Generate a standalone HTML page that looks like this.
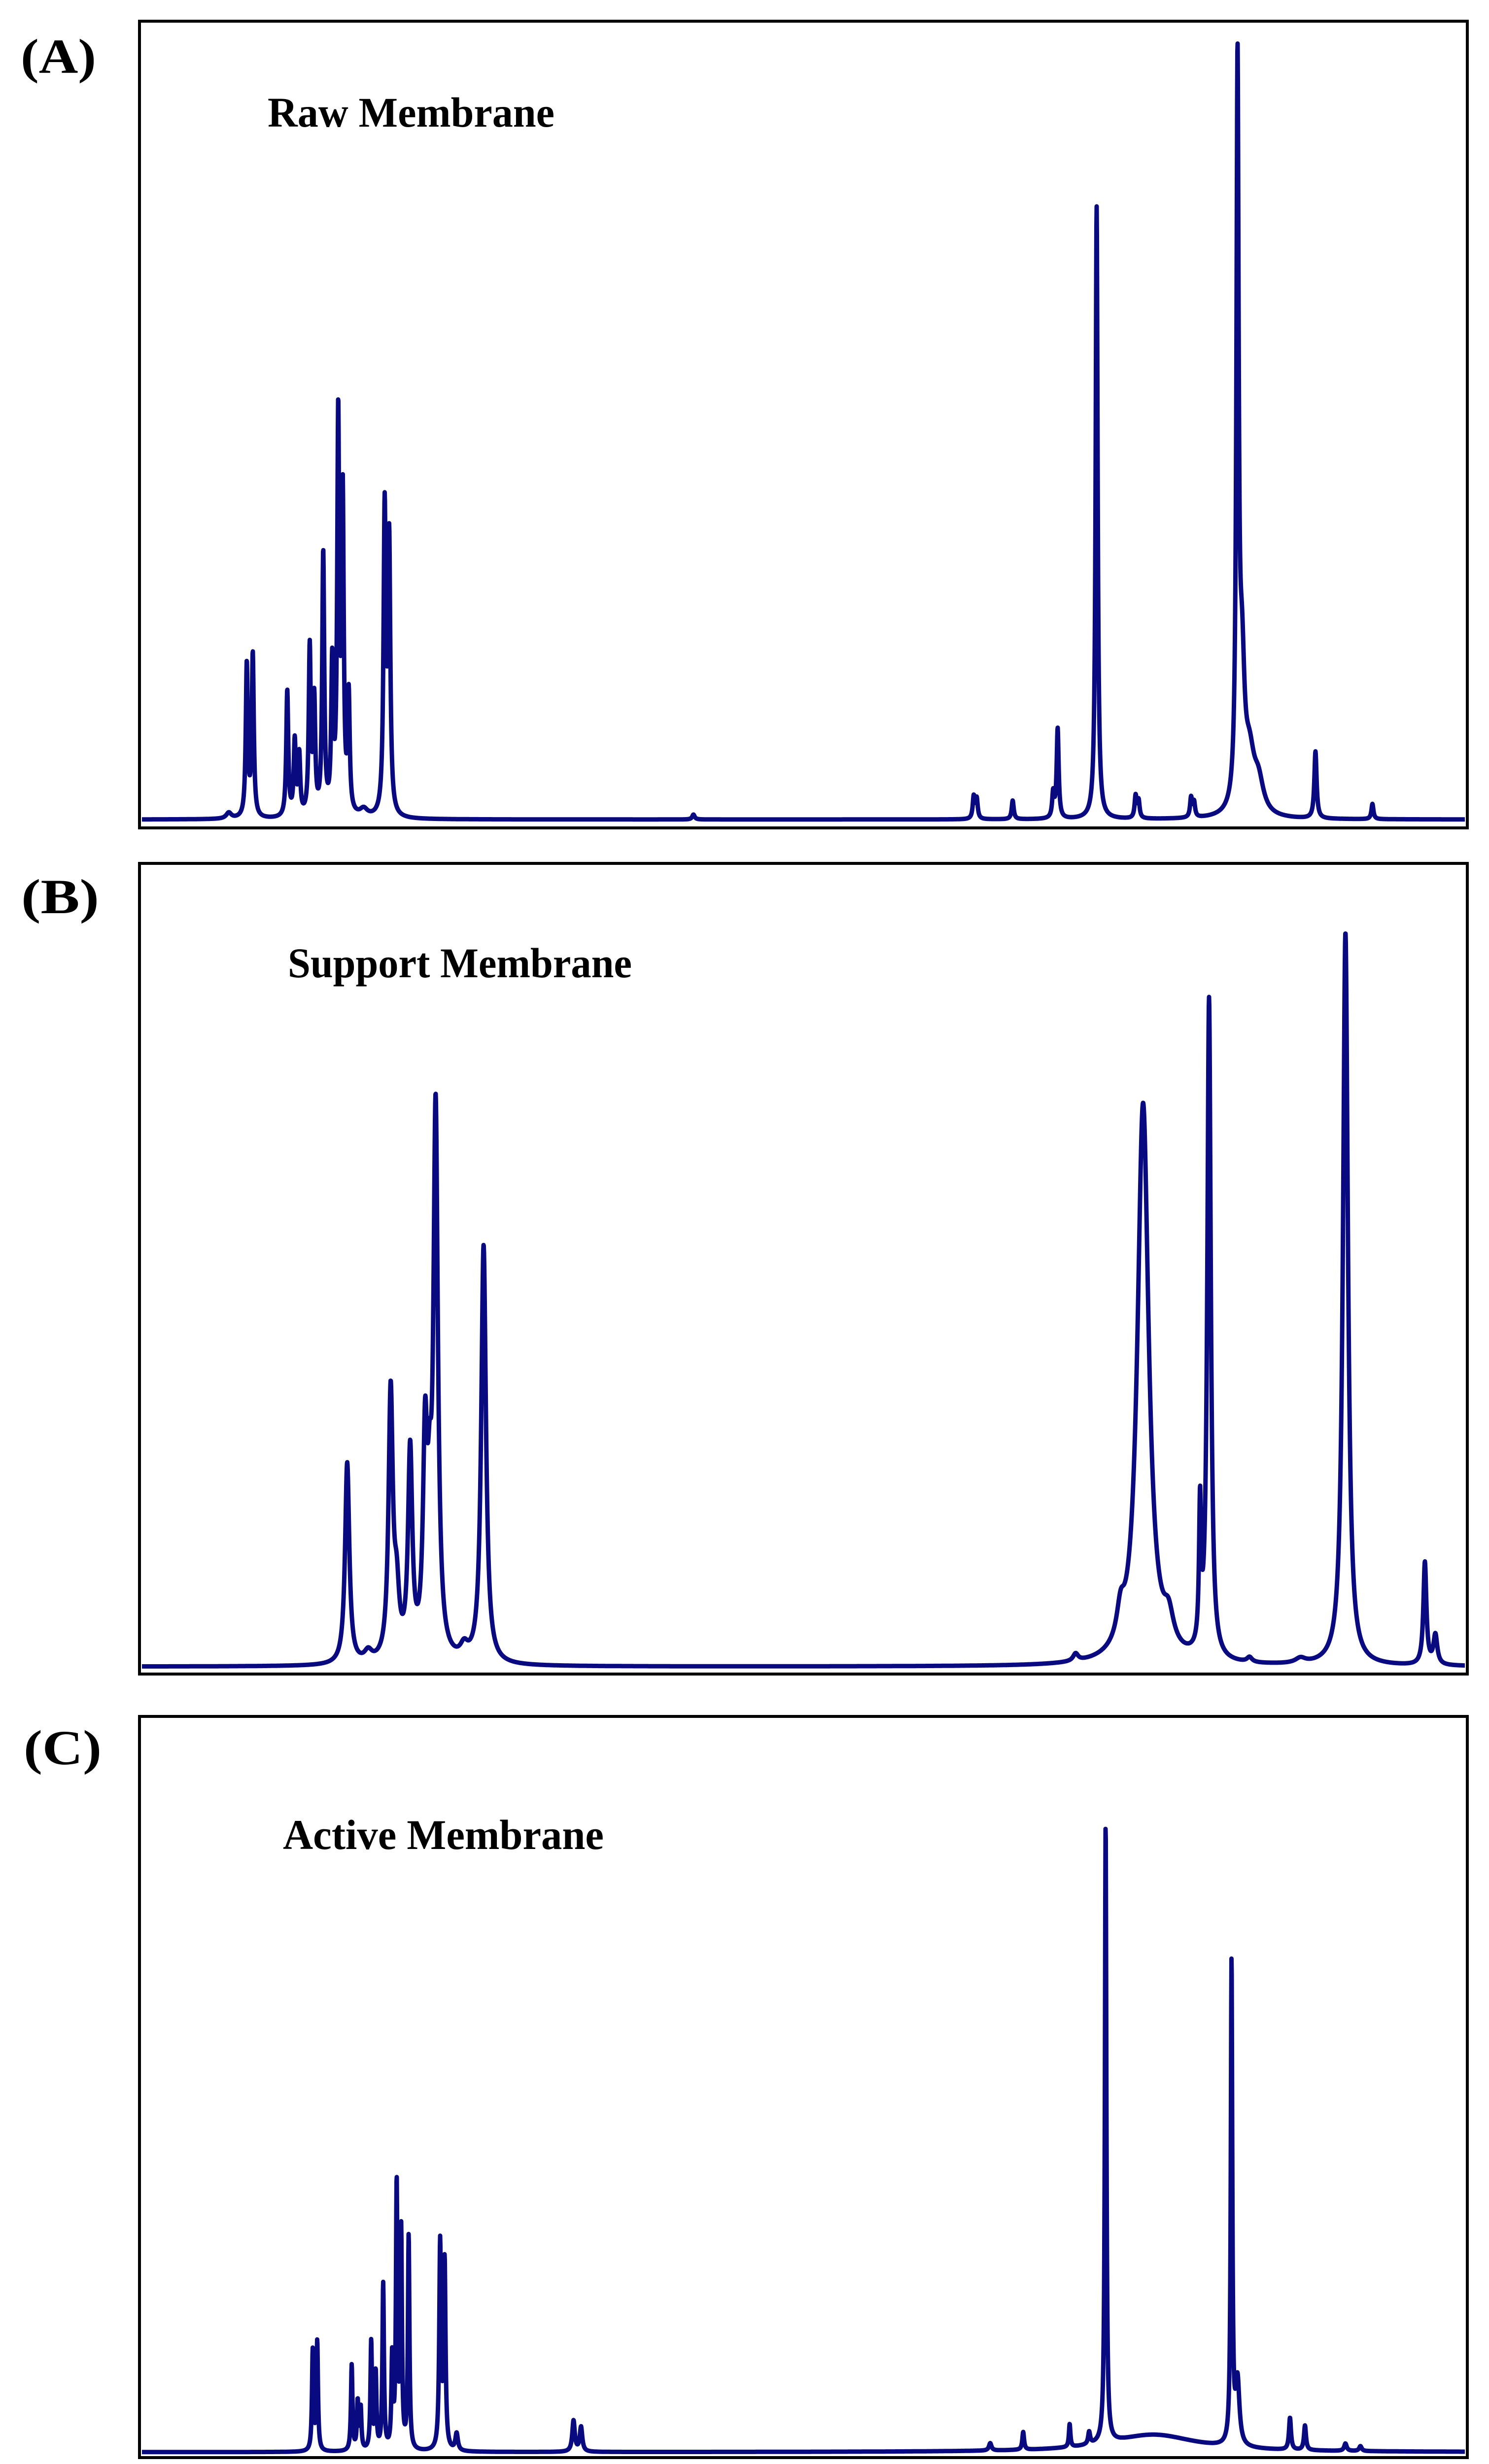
<!DOCTYPE html>
<html><head><meta charset="utf-8"><style>
html,body{margin:0;padding:0;background:#fff;width:3021px;height:5137px;overflow:hidden;}
svg{display:block;position:absolute;left:0;top:0;}
</style></head><body>
<svg id="chart" width="3021" height="5137" viewBox="0 0 3021 5137" xmlns="http://www.w3.org/2000/svg">
<rect width="3021" height="5137" fill="#fff"/>
<g id="frames"></g>
<g id="spectra"></g>
<g id="axis"></g>
<text x="42" y="148" font-family="Liberation Serif, serif" font-weight="bold" font-size="100" textLength="153" lengthAdjust="spacingAndGlyphs">(A)</text>
<text x="43" y="1853" font-family="Liberation Serif, serif" font-weight="bold" font-size="100" textLength="158" lengthAdjust="spacingAndGlyphs">(B)</text>
<text x="48" y="3580" font-family="Liberation Serif, serif" font-weight="bold" font-size="100" textLength="158" lengthAdjust="spacingAndGlyphs">(C)</text>
<text x="543" y="257" font-family="Liberation Serif, serif" font-weight="bold" font-size="86" textLength="582" lengthAdjust="spacingAndGlyphs">Raw Membrane</text>
<text x="584" y="1983" font-family="Liberation Serif, serif" font-weight="bold" font-size="86" textLength="698" lengthAdjust="spacingAndGlyphs">Support Membrane</text>
<text x="574" y="3752" font-family="Liberation Serif, serif" font-weight="bold" font-size="86" textLength="651" lengthAdjust="spacingAndGlyphs">Active Membrane</text>
</svg>
<script>
// Panel A (Raw Membrane)
const rawPpm = [8.33,8.29,8.06,8.01,7.98,7.91,7.88,7.82,7.76,7.72,7.69,7.65,7.41,7.38,8.45,7.55,3.48,3.46,3.22,2.95,2.92,2.66,2.40,2.38,2.03,2.01,1.72,1.69,1.64,1.58,1.20,0.82,5.35];
const rawHeight = [310,329,256,150,121,338,228,529,296,796,635,234,616,548,12,15,45,40,38,50,182,1244,45,35,40,30,1473,260,110,60,136,31,10];
const rawWidth = [0.008,0.008,0.008,0.008,0.008,0.008,0.008,0.008,0.008,0.008,0.008,0.008,0.009,0.009,0.02,0.03,0.008,0.008,0.008,0.008,0.008,0.008,0.008,0.008,0.008,0.008,0.009,0.02,0.04,0.04,0.009,0.008,0.01];
// Panel B (Support Membrane)
const supPpm = [7.66,7.37,7.33,7.24,7.14,7.11,7.07,6.75,6.88,7.52,2.80,2.50,2.35,2.18,1.97,1.91,1.64,1.30,1.00,0.47,0.40];
const supHeight = [409,540,120,417,420,200,1105,849,25,20,15,60,1137,60,280,1340,10,10,1488,208,60];
const supWidth = [0.017,0.017,0.02,0.017,0.017,0.015,0.018,0.019,0.03,0.03,0.02,0.03,0.045,0.04,0.008,0.014,0.02,0.04,0.02,0.012,0.015];
// Panel C (Active Membrane)
const actPpm = [7.89,7.86,7.63,7.59,7.57,7.50,7.47,7.42,7.36,7.33,7.30,7.25,7.04,7.01,6.93,6.15,6.10,3.37,3.15,2.84,2.71,2.60,2.28,1.76,1.72,1.37,1.27,1.00,0.90];
const actHeight = [203,221,174,97,84,219,155,336,184,535,439,433,418,379,35,63,50,15,36,47,25,1259,35,980,130,65,50,15,10];
const actWidth = [0.006,0.006,0.006,0.006,0.006,0.006,0.006,0.006,0.006,0.006,0.006,0.006,0.007,0.007,0.01,0.01,0.01,0.01,0.007,0.006,0.008,0.006,0.35,0.006,0.015,0.008,0.008,0.01,0.01];
// Axis
const tickLabels = ["8.5","8.0","7.5","7.0","6.5","6.0","5.5","5.0","4.5","4.0","3.5","3.0","2.5","2.0","1.5","1.0"];

const NS = "http://www.w3.org/2000/svg";
const X0 = 449, PPX = 304.1, LEFT = 283, RIGHT = 2977;
function xScale(p){ return X0 + (8.5 - p) * PPX; }
function ppmAt(x){ return 8.5 - (x - X0) / PPX; }

const panels = [
  {name:"raw", top:43, bottom:1680, base:1663, ppm:rawPpm, h:rawHeight, w:rawWidth},
  {name:"support", top:1752, bottom:3397, base:3382, ppm:supPpm, h:supHeight, w:supWidth},
  {name:"active", top:3483, bottom:4987, base:4976, ppm:actPpm, h:actHeight, w:actWidth}
];
const frames = document.getElementById('frames');
const spectra = document.getElementById('spectra');
panels.forEach(pn => {
  const r = document.createElementNS(NS,'rect');
  r.setAttribute('x', LEFT); r.setAttribute('y', pn.top);
  r.setAttribute('width', RIGHT-LEFT); r.setAttribute('height', pn.bottom-pn.top);
  r.setAttribute('fill','none'); r.setAttribute('stroke','#000'); r.setAttribute('stroke-width','6');
  
  
  frames.appendChild(r);
  let d = "";
  for (let x = LEFT + 5; x <= RIGHT - 5; x += 0.5) {
    const p = ppmAt(x);
    let s = 0;
    for (let i = 0; i < pn.ppm.length; i++) {
      const g = (p - pn.ppm[i]) / pn.w[i];
      s += pn.h[i] / (1 + g*g);
    }
    const y = pn.base - s;
    d += (d ? "L" : "M") + x.toFixed(1) + " " + y.toFixed(1);
  }
  const path = document.createElementNS(NS,'path');
  path.setAttribute('d', d);
  path.setAttribute('fill','none'); path.setAttribute('stroke','#0a0a80');
  path.setAttribute('stroke-width','9'); path.setAttribute('stroke-linejoin','round');
  
  
  spectra.appendChild(path);
});

// Axis ruler
const axis = document.getElementById('axis');
const line = document.createElementNS(NS,'line');
line.setAttribute('x1', LEFT); line.setAttribute('x2', RIGHT);
line.setAttribute('y1', 5004); line.setAttribute('y2', 5004);
line.setAttribute('stroke','#000'); line.setAttribute('stroke-width','6');


axis.appendChild(line);
for (let k = 0; ; k++) {
  const p = 9.04 - k * 0.02;
  if (p < 0.2) break;
  const x = xScale(p);
  if (x < LEFT || x > RIGHT) continue;
  const m = Math.round(p * 100);
  let len = 10;
  if (m % 50 === 0) len = 30; else if (m % 10 === 0) len = 18;
  const t = document.createElementNS(NS,'line');
  t.setAttribute('x1', x.toFixed(1)); t.setAttribute('x2', x.toFixed(1));
  t.setAttribute('y1', 5004); t.setAttribute('y2', 5004 + len);
  t.setAttribute('stroke','#000'); t.setAttribute('stroke-width', len > 20 ? '4' : '3');
  
  
  axis.appendChild(t);
}
tickLabels.forEach(lbl => {
  const x = xScale(parseFloat(lbl));
  const t = document.createElementNS(NS,'text');
  t.setAttribute('x', x.toFixed(1)); t.setAttribute('y', 5090);
  t.setAttribute('text-anchor','middle');
  t.setAttribute('font-family','Liberation Sans, sans-serif');
  t.setAttribute('font-size','44');
  t.setAttribute('textLength','80'); t.setAttribute('lengthAdjust','spacingAndGlyphs');
  t.textContent = lbl;
  
  
  axis.appendChild(t);
});
const ppmLbl = document.createElementNS(NS,'text');
ppmLbl.setAttribute('x', 2917); ppmLbl.setAttribute('y', 5088);
ppmLbl.setAttribute('text-anchor','middle');
ppmLbl.setAttribute('font-family','Liberation Sans, sans-serif');
ppmLbl.setAttribute('font-size','44');
ppmLbl.textContent = 'ppm';


axis.appendChild(ppmLbl);
</script>
</body></html>
